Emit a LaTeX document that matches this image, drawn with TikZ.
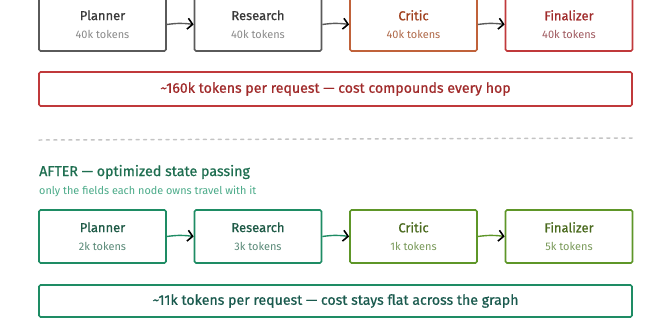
\documentclass[tikz,border=0pt]{standalone}
\usepackage{fontspec}
\setmainfont{Fira Sans}
\newfontfamily\medfont{Fira Sans}[FakeBold=0.7]
\usetikzlibrary{arrows.meta}
\definecolor{gbord}{HTML}{5A5A5A}
\definecolor{gname}{HTML}{3A3A3A}
\definecolor{gtok}{HTML}{8A8A8A}
\definecolor{obord}{HTML}{C0623A}
\definecolor{oname}{HTML}{A0401E}
\definecolor{otok}{HTML}{B06A4A}
\definecolor{rbord}{HTML}{C0393B}
\definecolor{rname}{HTML}{A02A2A}
\definecolor{rtok}{HTML}{A05A60}
\definecolor{tbord}{HTML}{1E8C64}
\definecolor{tname}{HTML}{1E5A46}
\definecolor{ttok}{HTML}{5A8A78}
\definecolor{vbord}{HTML}{5E9628}
\definecolor{vname}{HTML}{4A6A1E}
\definecolor{vtok}{HTML}{7A9A5A}
\definecolor{sumtxt}{HTML}{1A5A4E}
\definecolor{ttl}{HTML}{1E6E50}
\definecolor{subc}{HTML}{4AAA88}
\definecolor{divc}{HTML}{C4C4C4}
\tikzset{
  stagebox/.style={draw=#1, line width=1.7pt, fill=white, rounded corners=1.5pt,
    minimum width=127bp, minimum height=53bp, inner sep=0pt, align=center},
  sumbox/.style={draw=#1, line width=1.7pt, rounded corners=1.5pt,
    minimum width=593bp, inner sep=0pt},
  hop/.style={draw=#1, line width=1.4pt, -{Straight Barb[length=5pt,width=11pt,color=black,line width=1.6pt]}},
}
\newcommand{\stagetext}[4]{{\medfont\fontsize{13}{15}\selectfont\textcolor{#1}{#2}}\\[6.5pt]{\fontsize{11}{12}\selectfont\textcolor{#3}{#4}}}
\begin{document}
\begin{tikzpicture}[x=1bp,y=-1bp]
\useasboundingbox (0,0) rectangle (660,330);
% top row
\node[stagebox=gbord] (p1) at (102.5,24.5) {\stagetext{gname}{Planner}{gtok}{40k tokens}};
\node[stagebox=gbord] (r1) at (258,24.5) {\stagetext{gname}{Research}{gtok}{40k tokens}};
\node[stagebox=obord] (c1) at (413.5,24.5) {\stagetext{oname}{Critic}{otok}{40k tokens}};
\node[stagebox=rbord] (f1) at (569,24.5) {\stagetext{rname}{Finalizer}{rtok}{40k tokens}};
\draw[hop=gbord] (p1.east) to[bend left=8] (r1.west);
\draw[hop=gbord] (r1.east) to[bend left=8] (c1.west);
\draw[hop=gbord] (c1.east) to[bend left=8] (f1.west);
\node[sumbox=rbord, minimum height=34bp, font=\medfont\fontsize{14.2}{16}\selectfont, text=rname] (s1) at (335.5,89) {\textasciitilde160k tokens per request — cost compounds every hop};
% divider
\coordinate (dl) at (39,140);
\coordinate (dr) at (632,138);
\draw[divc, line width=1.5pt, dash pattern=on 3pt off 4.5pt, line cap=round] (dl) -- (dr);
% after header
\node[anchor=west, inner sep=0pt, text=ttl, font=\medfont\fontsize{14.3}{16}\selectfont] (t) at (39,172) {AFTER — optimized state passing};
\node[anchor=west, inner sep=0pt, text=subc, font=\fontsize{10.9}{12}\selectfont] (st) at (39,191) {only the fields each node owns travel with it};
% bottom row
\node[stagebox=tbord] (p2) at (102.5,236.5) {\stagetext{tname}{Planner}{ttok}{2k tokens}};
\node[stagebox=tbord] (r2) at (258,236.5) {\stagetext{tname}{Research}{ttok}{3k tokens}};
\node[stagebox=vbord] (c2) at (413.5,236.5) {\stagetext{vname}{Critic}{vtok}{1k tokens}};
\node[stagebox=vbord] (f2) at (569,236.5) {\stagetext{vname}{Finalizer}{vtok}{5k tokens}};
\draw[hop=tbord] (p2.east) to[bend left=8] (r2.west);
\draw[hop=tbord] (r2.east) to[bend left=8] (c2.west);
\draw[hop=vbord] (c2.east) to[bend left=8] (f2.west);
\node[sumbox=tbord, minimum height=32bp, font=\medfont\fontsize{14.2}{16}\selectfont, text=sumtxt] (s2) at (335.5,301) {\textasciitilde11k tokens per request — cost stays flat across the graph};
\end{tikzpicture}
\end{document}
